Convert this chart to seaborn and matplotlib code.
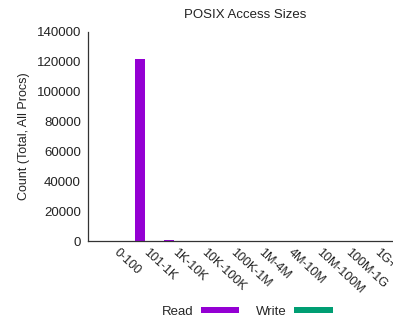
import matplotlib
matplotlib.use("Agg")
import matplotlib.pyplot as plt
from matplotlib.patches import Patch
import seaborn as sns
import pandas as pd

size_bins = ["0-100", "101-1K", "1K-10K", "10K-100K", "100K-1M",
             "1M-4M", "4M-10M", "10M-100M", "100M-1G", "1G+"]
read_counts = [0, 122000, 700, 0, 0, 0, 0, 0, 0, 0]
write_counts = [0, 0, 0, 0, 0, 0, 0, 0, 0, 0]
series_names = ["Read", "Write"]
series_colors = ["#9400D3", "#009E73"]
y_ticks = [0, 20000, 40000, 60000, 80000, 100000, 120000, 140000]

df = pd.DataFrame({
    "bin": size_bins * 2,
    "count": read_counts + write_counts,
    "op": [series_names[0]] * len(size_bins) + [series_names[1]] * len(size_bins),
})

sns.set_theme(style="white")
plt.rcParams["font.family"] = ["Liberation Sans", "DejaVu Sans"]

fig = plt.figure(figsize=(3.93, 3.21), dpi=100)
ax = fig.add_axes([88 / 393, 80 / 321, 1 - 88 / 393, 209 / 321])

sns.barplot(data=df, x="bin", y="count", hue="op", order=size_bins,
            hue_order=series_names, palette=series_colors, width=0.66,
            saturation=1, ax=ax, legend=False, edgecolor="none")

ax.set_xlim(-0.97, 9.58)
ax.set_ylim(0, 140000)
ax.set_yticks(y_ticks)
ax.set_yticklabels([str(v) for v in y_ticks], fontsize=9.5, color="#222222")
ax.set_xticks(range(len(size_bins)))
ax.set_xticklabels(size_bins, rotation=-43, ha="left", va="center",
                   rotation_mode="anchor", fontsize=9, color="#222222")
ax.tick_params(axis="both", direction="in", length=3, width=0.6,
               color="#999999", pad=5)
ax.tick_params(axis="x", pad=7)

for side in ["top", "right"]:
    ax.spines[side].set_visible(False)
for side in ["left", "bottom"]:
    ax.spines[side].set_color("#333333")
    ax.spines[side].set_linewidth(0.9)

ax.set_xlabel("")
ax.set_ylabel("Count (Total, All Procs)", fontsize=9, color="#222222",
              labelpad=5)
fig.text(245 / 393, 1 - 15 / 321, "POSIX Access Sizes", ha="center",
         va="center", fontsize=9.5, color="#222222")

# legend: label text first, then a thick colour swatch
handles = [Patch(facecolor=c, edgecolor="none") for c in series_colors]
fig.legend(handles, series_names, loc="center", ncol=2,
           bbox_to_anchor=(247 / 393, 1 - 312 / 321), frameon=False,
           markerfirst=False, handlelength=2.9, handleheight=0.35,
           handletextpad=0.6, columnspacing=1.25, fontsize=9.5)

fig.savefig("out.png", dpi=100)
